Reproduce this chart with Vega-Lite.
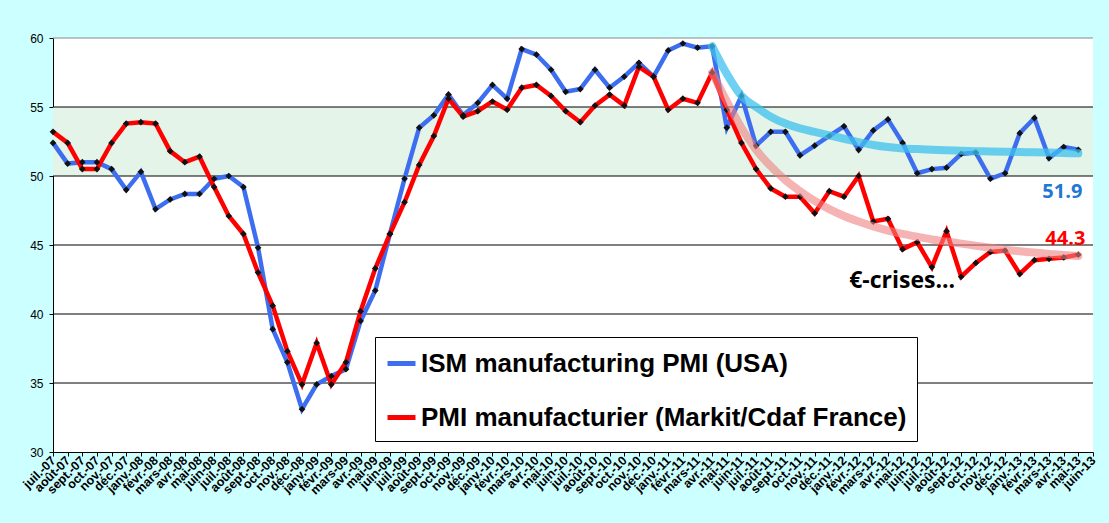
{
  "$schema": "https://vega.github.io/schema/vega-lite/v6.json",
  "width": 1040,
  "height": 414,
  "autosize": "none",
  "padding": {"left": 53, "top": 38, "right": 16, "bottom": 71},
  "background": "#CCFFFF",
  "datasets": {
    "pmi": [
      {"m": "juil.-07", "usa": 52.4, "fr": 53.2},
      {"m": "août-07", "usa": 50.9, "fr": 52.4},
      {"m": "sept.-07", "usa": 51.0, "fr": 50.5},
      {"m": "oct.-07", "usa": 51.0, "fr": 50.5},
      {"m": "nov.-07", "usa": 50.5, "fr": 52.4},
      {"m": "déc.-07", "usa": 49.0, "fr": 53.8},
      {"m": "janv.-08", "usa": 50.3, "fr": 53.9},
      {"m": "févr.-08", "usa": 47.6, "fr": 53.8},
      {"m": "mars-08", "usa": 48.3, "fr": 51.8},
      {"m": "avr.-08", "usa": 48.7, "fr": 51.0},
      {"m": "mai-08", "usa": 48.7, "fr": 51.4},
      {"m": "juin-08", "usa": 49.8, "fr": 49.2},
      {"m": "juil.-08", "usa": 50.0, "fr": 47.1},
      {"m": "août-08", "usa": 49.2, "fr": 45.8},
      {"m": "sept.-08", "usa": 44.8, "fr": 43.0},
      {"m": "oct.-08", "usa": 38.9, "fr": 40.6},
      {"m": "nov.-08", "usa": 36.5, "fr": 37.3},
      {"m": "déc.-08", "usa": 33.1, "fr": 34.9},
      {"m": "janv.-09", "usa": 34.9, "fr": 37.9},
      {"m": "févr.-09", "usa": 35.5, "fr": 34.9},
      {"m": "mars-09", "usa": 36.0, "fr": 36.5},
      {"m": "avr.-09", "usa": 39.5, "fr": 40.2},
      {"m": "mai-09", "usa": 41.7, "fr": 43.3},
      {"m": "juin-09", "usa": 45.8, "fr": 45.8},
      {"m": "juil.-09", "usa": 49.8, "fr": 48.1},
      {"m": "août-09", "usa": 53.5, "fr": 50.8},
      {"m": "sept.-09", "usa": 54.4, "fr": 52.9},
      {"m": "oct.-09", "usa": 55.9, "fr": 55.6},
      {"m": "nov.-09", "usa": 54.4, "fr": 54.3},
      {"m": "déc.-09", "usa": 55.3, "fr": 54.7},
      {"m": "janv.-10", "usa": 56.6, "fr": 55.4},
      {"m": "févr.-10", "usa": 55.6, "fr": 54.8},
      {"m": "mars-10", "usa": 59.2, "fr": 56.4},
      {"m": "avr.-10", "usa": 58.8, "fr": 56.6},
      {"m": "mai-10", "usa": 57.7, "fr": 55.8},
      {"m": "juin-10", "usa": 56.1, "fr": 54.7},
      {"m": "juil.-10", "usa": 56.3, "fr": 53.9},
      {"m": "août-10", "usa": 57.7, "fr": 55.1},
      {"m": "sept.-10", "usa": 56.4, "fr": 55.9},
      {"m": "oct.-10", "usa": 57.2, "fr": 55.1},
      {"m": "nov.-10", "usa": 58.2, "fr": 57.9},
      {"m": "déc.-10", "usa": 57.2, "fr": 57.2},
      {"m": "janv.-11", "usa": 59.1, "fr": 54.8},
      {"m": "févr.-11", "usa": 59.6, "fr": 55.6},
      {"m": "mars-11", "usa": 59.3, "fr": 55.3},
      {"m": "avr.-11", "usa": 59.4, "fr": 57.5},
      {"m": "mai-11", "usa": 53.5, "fr": 54.8},
      {"m": "juin-11", "usa": 55.8, "fr": 52.4},
      {"m": "juil.-11", "usa": 52.2, "fr": 50.5},
      {"m": "août-11", "usa": 53.2, "fr": 49.1},
      {"m": "sept.-11", "usa": 53.2, "fr": 48.5},
      {"m": "oct.-11", "usa": 51.5, "fr": 48.5},
      {"m": "nov.-11", "usa": 52.2, "fr": 47.3},
      {"m": "déc.-11", "usa": 52.9, "fr": 48.9},
      {"m": "janv.-12", "usa": 53.6, "fr": 48.5},
      {"m": "févr.-12", "usa": 51.9, "fr": 50.0},
      {"m": "mars-12", "usa": 53.3, "fr": 46.7},
      {"m": "avr.-12", "usa": 54.1, "fr": 46.9},
      {"m": "mai-12", "usa": 52.4, "fr": 44.7},
      {"m": "juin-12", "usa": 50.2, "fr": 45.2},
      {"m": "juil.-12", "usa": 50.5, "fr": 43.4},
      {"m": "août-12", "usa": 50.6, "fr": 46.0},
      {"m": "sept.-12", "usa": 51.6, "fr": 42.7},
      {"m": "oct.-12", "usa": 51.7, "fr": 43.7},
      {"m": "nov.-12", "usa": 49.8, "fr": 44.5},
      {"m": "déc.-12", "usa": 50.2, "fr": 44.6},
      {"m": "janv.-13", "usa": 53.1, "fr": 42.9},
      {"m": "févr.-13", "usa": 54.2, "fr": 43.9},
      {"m": "mars-13", "usa": 51.3, "fr": 44.0},
      {"m": "avr.-13", "usa": 52.1, "fr": 44.1},
      {"m": "mai-13", "usa": 51.9, "fr": 44.3}
    ],
    "trend": [
      {"m": "avr.-11", "usa": 59.4, "fr": 57.5},
      {"m": "mai-11", "usa": 57.4, "fr": 55.4},
      {"m": "juin-11", "usa": 55.8, "fr": 53.5},
      {"m": "juil.-11", "usa": 55.0, "fr": 51.9},
      {"m": "août-11", "usa": 54.3, "fr": 50.7},
      {"m": "sept.-11", "usa": 53.8, "fr": 49.7},
      {"m": "oct.-11", "usa": 53.45, "fr": 48.9},
      {"m": "nov.-11", "usa": 53.2, "fr": 48.2},
      {"m": "déc.-11", "usa": 52.95, "fr": 47.6},
      {"m": "janv.-12", "usa": 52.7, "fr": 47.1},
      {"m": "févr.-12", "usa": 52.45, "fr": 46.7},
      {"m": "mars-12", "usa": 52.25, "fr": 46.35},
      {"m": "avr.-12", "usa": 52.1, "fr": 46.05},
      {"m": "mai-12", "usa": 52.0, "fr": 45.8},
      {"m": "juin-12", "usa": 51.95, "fr": 45.6},
      {"m": "juil.-12", "usa": 51.9, "fr": 45.4},
      {"m": "août-12", "usa": 51.86, "fr": 45.25},
      {"m": "sept.-12", "usa": 51.83, "fr": 45.1},
      {"m": "oct.-12", "usa": 51.8, "fr": 44.95},
      {"m": "nov.-12", "usa": 51.78, "fr": 44.8},
      {"m": "déc.-12", "usa": 51.76, "fr": 44.65},
      {"m": "janv.-13", "usa": 51.74, "fr": 44.55},
      {"m": "févr.-13", "usa": 51.72, "fr": 44.45},
      {"m": "mars-13", "usa": 51.7, "fr": 44.35},
      {"m": "avr.-13", "usa": 51.67, "fr": 44.28},
      {"m": "mai-13", "usa": 51.64, "fr": 44.2}
    ]
  },
  "layer": [
    {
      "data": {"values": [{"lo": 50, "hi": 55}]},
      "mark": {"type": "rect", "color": "#E4F4E8"},
      "encoding": {
        "y": {
          "field": "lo",
          "type": "quantitative",
          "scale": {"domain": [30, 60], "nice": false, "zero": false},
          "axis": {"values": [30, 35, 40, 45, 50, 55, 60]}
        },
        "y2": {"field": "hi"}
      }
    },
    {
      "data": {"values": [{"g": 35}, {"g": 40}, {"g": 45}, {"g": 50}, {"g": 55}, {"g": 60}]},
      "mark": {"type": "rule", "strokeWidth": 1},
      "encoding": {
        "y": {"field": "g", "type": "quantitative"},
        "color": {"condition": {"test": "datum.g == 60", "value": "#888888"}, "value": "black"}
      }
    },
    {
      "encoding": {
        "x": {
          "field": "m",
          "type": "ordinal",
          "sort": null,
          "scale": {
            "type": "point",
            "padding": 0,
            "domain": ["juil.-07", "août-07", "sept.-07", "oct.-07", "nov.-07", "déc.-07",
              "janv.-08", "févr.-08", "mars-08", "avr.-08", "mai-08", "juin-08", "juil.-08", "août-08", "sept.-08", "oct.-08", "nov.-08", "déc.-08",
              "janv.-09", "févr.-09", "mars-09", "avr.-09", "mai-09", "juin-09", "juil.-09", "août-09", "sept.-09", "oct.-09", "nov.-09", "déc.-09",
              "janv.-10", "févr.-10", "mars-10", "avr.-10", "mai-10", "juin-10", "juil.-10", "août-10", "sept.-10", "oct.-10", "nov.-10", "déc.-10",
              "janv.-11", "févr.-11", "mars-11", "avr.-11", "mai-11", "juin-11", "juil.-11", "août-11", "sept.-11", "oct.-11", "nov.-11", "déc.-11",
              "janv.-12", "févr.-12", "mars-12", "avr.-12", "mai-12", "juin-12", "juil.-12", "août-12", "sept.-12", "oct.-12", "nov.-12", "déc.-12",
              "janv.-13", "févr.-13", "mars-13", "avr.-13", "mai-13", "juin-13"]
          },
          "axis": {
            "labelAngle": -45,
            "labelAlign": "right",
            "labelBaseline": "middle",
            "labelFontSize": 12.5,
            "labelFontWeight": "bold",
            "labelPadding": 2
          }
        }
      },
      "layer": [
        {
          "data": {"name": "pmi"},
          "transform": [{"fold": ["usa", "fr"], "as": ["s", "v"]}],
          "mark": {"type": "line", "strokeWidth": 4.5},
          "encoding": {
            "y": {"field": "v", "type": "quantitative"},
            "color": {
              "field": "s",
              "type": "nominal",
              "scale": {"domain": ["usa", "fr"], "range": ["#3D6EF0", "#FF0000"]},
              "legend": {
                "orient": "none",
                "legendX": 322,
                "legendY": 299,
                "title": null,
                "labelExpr": "datum.value == 'usa' ? 'ISM manufacturing PMI (USA)' : 'PMI manufacturier (Markit/Cdaf France)'",
                "symbolType": "stroke",
                "symbolSize": 784,
                "symbolStrokeWidth": 5,
                "labelFont": "Liberation Sans",
                "labelFontSize": 26,
                "labelFontWeight": "bold",
                "labelColor": "black",
                "labelLimit": 700,
                "labelOffset": 3,
                "fillColor": "white",
                "strokeColor": "black",
                "padding": 10,
                "rowPadding": 24
              }
            }
          }
        },
        {
          "data": {"name": "pmi"},
          "transform": [{"fold": ["usa", "fr"], "as": ["s", "v"]}],
          "mark": {"type": "point", "shape": "diamond", "filled": true, "color": "#111111", "size": 45, "opacity": 1},
          "encoding": {
            "y": {"field": "v", "type": "quantitative"},
            "detail": {"field": "s"}
          }
        },
        {
          "data": {"name": "trend"},
          "mark": {"type": "line", "interpolate": "monotone", "strokeWidth": 8, "strokeCap": "round", "color": "#3EC0EE", "opacity": 0.75},
          "encoding": {"y": {"field": "usa", "type": "quantitative"}}
        },
        {
          "data": {"name": "trend"},
          "mark": {"type": "line", "interpolate": "monotone", "strokeWidth": 8, "strokeCap": "round", "color": "#F08080", "opacity": 0.6},
          "encoding": {"y": {"field": "fr", "type": "quantitative"}}
        },
        {
          "data": {"values": [{"m": "mai-13", "v": 51.9, "label": "51.9"}]},
          "mark": {"type": "text", "align": "right", "baseline": "alphabetic", "dx": 4, "dy": 48, "font": "Open Sans", "fontSize": 20, "fontWeight": "bold", "color": "#1F78D1"},
          "encoding": {"y": {"field": "v", "type": "quantitative"}, "text": {"field": "label"}}
        },
        {
          "data": {"values": [{"m": "mai-13", "v": 44.3, "label": "44.3"}]},
          "mark": {"type": "text", "align": "right", "baseline": "alphabetic", "dx": 7, "dy": -10, "font": "Open Sans", "fontSize": 20, "fontWeight": "bold", "color": "#FF0000"},
          "encoding": {"y": {"field": "v", "type": "quantitative"}, "text": {"field": "label"}}
        },
        {
          "data": {"values": [{"m": "sept.-12", "v": 42.7, "label": "€-crises..."}]},
          "mark": {"type": "text", "align": "right", "baseline": "alphabetic", "dx": -6, "dy": 11, "font": "Open Sans", "fontSize": 23, "fontWeight": "bold", "color": "black"},
          "encoding": {"y": {"field": "v", "type": "quantitative"}, "text": {"field": "label"}}
        }
      ]
    }
  ],
  "config": {
    "view": {"stroke": null, "fill": "white"},
    "axis": {
      "grid": false,
      "title": null,
      "domainColor": "black",
      "tickColor": "black",
      "tickSize": 4,
      "labelColor": "black",
      "labelFont": "Liberation Sans"
    },
    "axisY": {"labelFontSize": 12, "labelPadding": 6}
  }
}
